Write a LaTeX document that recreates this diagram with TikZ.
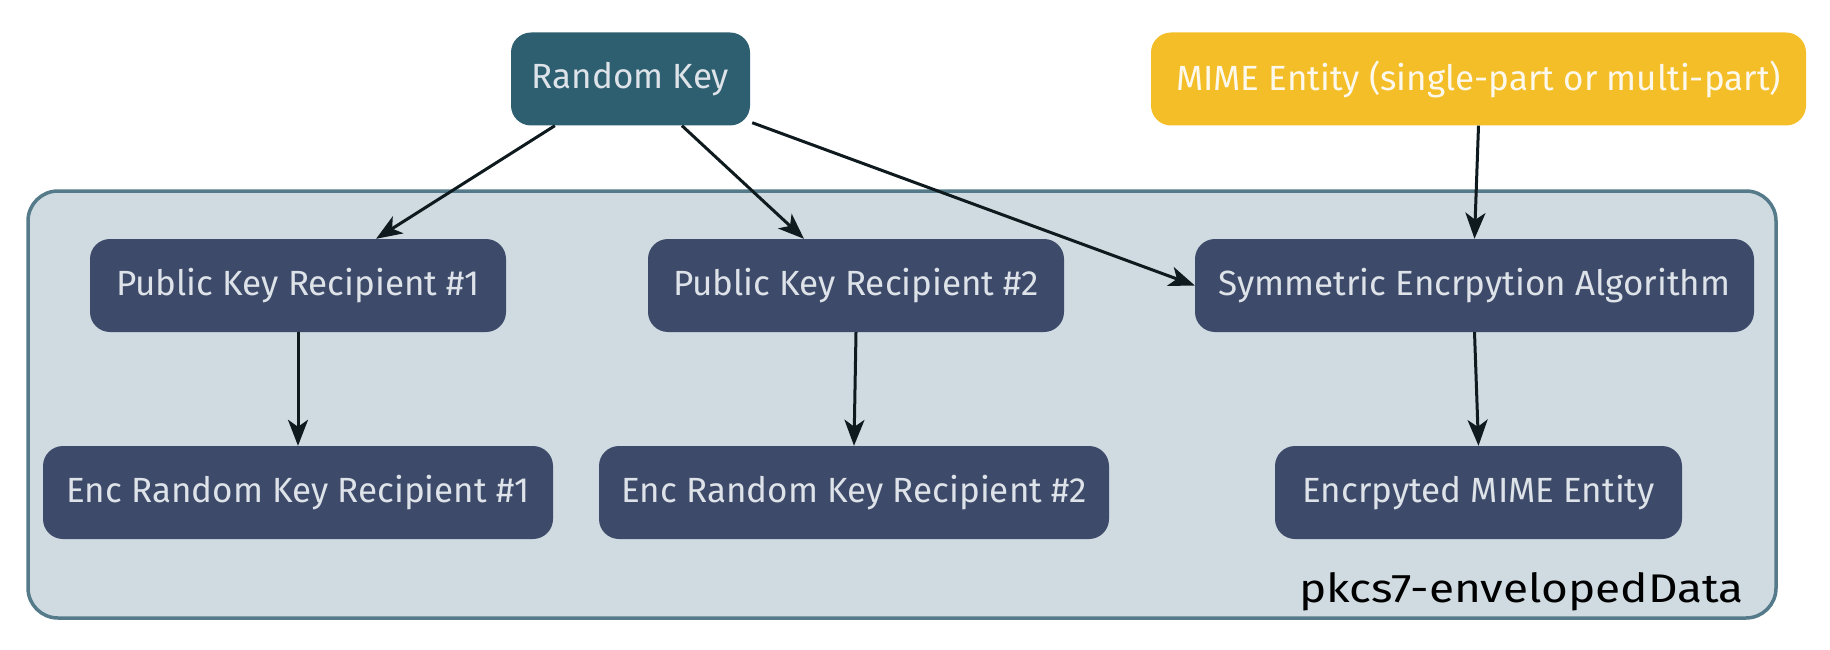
\documentclass[tikz,border=0pt]{standalone}
\usepackage{fontspec}
\setmainfont{Fira Sans}
\newfontfamily\envfont[FakeStretch=1.15]{Fira Sans}
\usetikzlibrary{arrows.meta,calc}
\definecolor{boxfill}{HTML}{CFDBE1}
\definecolor{boxline}{HTML}{557B8B}
\definecolor{nodefill}{HTML}{3E4A6A}
\definecolor{nodetext}{HTML}{DDE3E8}
\definecolor{rkfill}{HTML}{2D5F70}
\definecolor{mimefill}{HTML}{F4BE28}
\definecolor{mimetext}{HTML}{FDF8EC}
\definecolor{arrowcol}{HTML}{0E1A1E}
\begin{document}
\begin{tikzpicture}[x=1pt,y=-1pt,
  nodebox/.style={draw=none, fill=nodefill, text=nodetext, rounded corners=20pt,
    minimum height=93pt, inner sep=0pt, font=\fontsize{35}{40}\selectfont},
  rkbox/.style={nodebox, fill=rkfill},
  mimebox/.style={nodebox, fill=mimefill, text=mimetext},
  conn/.style={draw=arrowcol, line width=3pt,
    -{Stealth[length=26pt,width=20pt,inset=7pt]}}]
\useasboundingbox (0,0) rectangle (1830,650);
% container
\node[draw=boxline, fill=boxfill, line width=3.5pt, rounded corners=30pt,
  minimum width=1748pt, minimum height=427pt, inner sep=0pt] (env) at (902,404.5) {};
\node[anchor=base east, font=\envfont\fontsize{40}{46}\selectfont, text=black, inner sep=0pt]
  (envlabel) at (1744,602) {pkcs7-envelopedData};
% nodes
\node[rkbox, minimum width=239pt] (rk) at (630.5,79) {Random Key};
\node[mimebox, minimum width=655pt] (mime) at (1478.5,79) {MIME Entity (single-part or multi-part)};
\node[nodebox, minimum width=416pt] (pk1) at (298,285.5) {Public Key Recipient \#1};
\node[nodebox, minimum width=416pt] (pk2) at (856,285.5) {Public Key Recipient \#2};
\node[nodebox, minimum width=559pt] (sym) at (1474.5,285.5) {Symmetric Encrpytion Algorithm};
\node[nodebox, minimum width=510pt] (enc1) at (298,492.5) {Enc Random Key Recipient \#1};
\node[nodebox, minimum width=510pt] (enc2) at (854,492.5) {Enc Random Key Recipient \#2};
\node[nodebox, minimum width=407pt] (encm) at (1478.5,492.5) {Encrpyted MIME Entity};
% connectors
\draw[conn] ($(rk.south west)!0.184!(rk.south east)$) -- ($(pk1.north west)!0.6875!(pk1.north east)$);
\draw[conn] ($(rk.south west)!0.715!(rk.south east)$) -- ($(pk2.north west)!0.375!(pk2.north east)$);
\draw[conn] ($(rk.south east)+(2,-3)$) -- (sym.west);
\draw[conn] (mime.south) -- (sym.north);
\draw[conn] (pk1.south) -- (enc1.north);
\draw[conn] (pk2.south) -- (enc2.north);
\draw[conn] (sym.south) -- (encm.north);
\end{tikzpicture}
\end{document}
